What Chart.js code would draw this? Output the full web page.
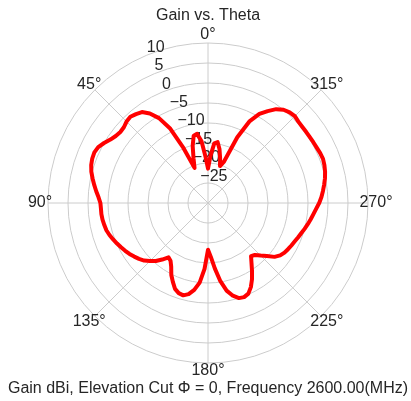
<!DOCTYPE html>
<html>
<head>
<meta charset="utf-8">
<script src="https://cdn.jsdelivr.net/npm/chart.js@4.4.0/dist/chart.umd.min.js"></script>
<style>
  html, body { margin: 0; padding: 0; background: #fff; }
  #wrap { width: 411px; height: 401px; }
</style>
</head>
<body>
<div id="wrap"><canvas id="gainChart"></canvas></div>
<script>
// theta in degrees, counter-clockwise from the top (0°)
const thetaDeg = [0,3,6,9,12,15,18,21,24,27,30,33,36,39,42,45,48,51,54,57,
  60,63,66,69,72,75,78,81,84,87,90,93,96,99,102,105,108,111,114,117,
  120,123,126,129,132,135,138,141,144,147,150,153,156,159,162,165,168,171,174,177,
  180,183,186,189,192,195,198,201,204,207,210,213,216,219,222,225,228,231,234,237,
  240,243,246,249,252,255,258,261,264,267,270,273,276,279,282,285,288,291,294,297,
  300,303,306,309,312,315,318,321,324,327,330,333,336,339,342,345,348,351,354,357];

// gain in dBi at each theta
const gainDb = [-21.4,-18.5,-14.5,-12.5,-12.8,-15.2,-18.3,-20.6,-15.0,-9.0,
  -5.5,-3.3,-1.9,-1.4,-1.0,-1.2,-1.7,-1.8,-1.5,-0.9,
  0.0,0.8,1.1,1.0,0.7,0.2,-0.5,-1.2,-1.9,-2.6,
  -3.1,-3.2,-3.2,-3.3,-3.5,-3.7,-4.1,-4.6,-5.1,-5.6,
  -6.1,-6.6,-7.2,-7.8,-8.5,-9.5,-10.5,-11.8,-13.2,-12.8,
  -11.6,-9.8,-8.4,-7.0,-6.3,-6.1,-6.7,-8.0,-10.0,-13.5,
  -18.3,-16.5,-13.5,-10.2,-7.6,-6.0,-5.0,-4.8,-5.2,-6.4,
  -8.0,-9.8,-11.5,-12.9,-12.5,-11.4,-10.2,-8.6,-7.7,-7.2,
  -6.9,-6.6,-6.3,-5.9,-5.5,-5.0,-4.5,-4.0,-3.5,-2.9,
  -2.2,-1.6,-1.1,-0.6,-0.1,0.3,0.6,0.8,0.7,0.5,
  0.4,0.3,0.3,0.3,0.4,0.7,0.5,0.0,-1.0,-2.6,
  -4.3,-7.0,-12.0,-19.0,-20.3,-18.3,-16.2,-14.6,-15.0,-18.2];

const rTickValues = [-25, -20, -15, -10, -5, 0, 5, 10];
const rTickLabels = ['\u221225', '\u221220', '\u221215', '\u221210', '\u22125', '0', '5', '10'];
const angleTickDeg = [0, 45, 90, 135, 180, 225, 270, 315];

const titleText = 'Gain vs. Theta';
const xLabelText = 'Gain dBi, Elevation Cut \u03A6 = 0, Frequency 2600.00(MHz)';

// radar goes clockwise, the plot goes counter-clockwise -> reorder
const n = thetaDeg.length;
const radarTheta = [];
const radarGain = [];
for (let i = 0; i < n; i++) {
  const k = (n - i) % n;
  radarTheta.push(thetaDeg[k]);
  radarGain.push(gainDb[k]);
}

const textColor = '#262626';
const gridColor = '#cccccc';
const font16 = { family: '"Liberation Sans", Arial, sans-serif', size: 16 };

const polarText = {
  id: 'polarText',
  beforeDatasetsDraw(chart) {
    const scale = chart.scales.r;
    const ctx = chart.ctx;
    ctx.save();
    ctx.fillStyle = textColor;
    ctx.font = '16px "Liberation Sans", Arial, sans-serif';
    // radial tick labels along 22.5 deg
    ctx.textAlign = 'left';
    ctx.textBaseline = 'bottom';
    rTickValues.forEach((v, j) => {
      const d = scale.getDistanceFromCenterForValue(v);
      const p = scale.getPointPosition(0, d, -Math.PI / 8);
      ctx.fillText(rTickLabels[j], p.x, p.y);
    });
    // angle labels
    ctx.textAlign = 'center';
    ctx.textBaseline = 'middle';
    radarTheta.forEach((t, i) => {
      if (angleTickDeg.includes(t)) {
        const p = scale.getPointPosition(i, scale.drawingArea + 8);
        ctx.fillText(t + '\u00B0', p.x, p.y);
      }
    });
    ctx.restore();
  }
};

new Chart(document.getElementById('gainChart'), {
  type: 'radar',
  data: {
    labels: radarTheta,
    datasets: [{
      data: radarGain,
      borderColor: '#ff0000',
      borderWidth: 4,
      borderJoinStyle: 'round',
      fill: false,
      pointRadius: 0,
      tension: 0
    }]
  },
  options: {
    responsive: true,
    maintainAspectRatio: false,
    animation: false,
    layout: { padding: { left: 5, right: 0, top: 0, bottom: 0 } },
    plugins: {
      legend: { display: false },
      tooltip: { enabled: false },
      title: {
        display: true,
        text: titleText,
        color: textColor,
        font: { ...font16, weight: 'normal' },
        padding: { top: 6, bottom: 17.8 }
      },
      subtitle: {
        display: true,
        position: 'bottom',
        text: xLabelText,
        color: textColor,
        font: font16,
        padding: { top: 15.8, bottom: 3 }
      }
    },
    scales: {
      r: {
        min: -30,
        max: 10,
        ticks: { stepSize: 5, display: false },
        pointLabels: { display: false },
        grid: { circular: true, color: gridColor, lineWidth: 1 },
        angleLines: {
          color: gridColor,
          lineWidth: (c) => angleTickDeg.includes(radarTheta[c.index]) ? 1 : 0
        }
      }
    }
  },
  plugins: [polarText]
});
</script>
</body>
</html>
